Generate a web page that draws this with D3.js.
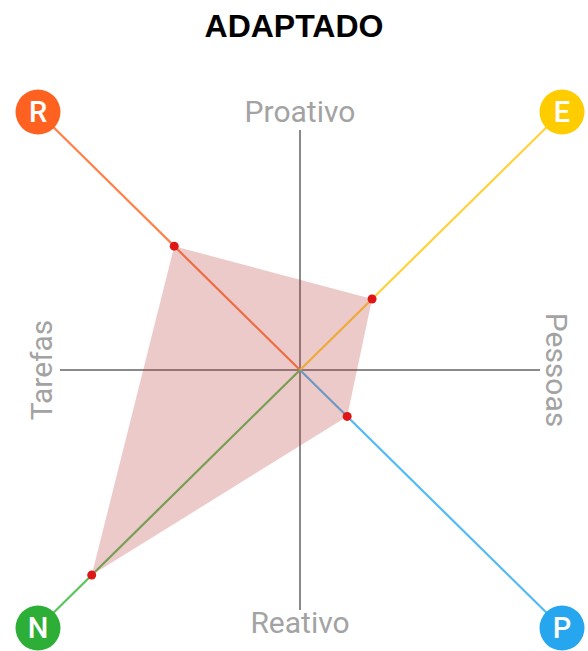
<!DOCTYPE html>
<html><head><meta charset="utf-8">
<script src="https://cdn.jsdelivr.net/npm/d3@7"></script>
<style>body{margin:0;background:#fff}svg{display:block}</style>
</head><body>
<svg id="c" width="588" height="651"></svg>
<script>
const title = "ADAPTADO";
const categories = ["R", "E", "P", "N"];
const directions = [[-1, 1], [1, 1], [1, -1], [-1, -1]];
const values = [0.48, 0.275, 0.18, 0.795];
const iconColors = ["#FF6120", "#FFCC00", "#26A6EF", "#2DAE36"];
const lineColors = ["#FF7F45", "#FFD23A", "#52BBF6", "#5CC45C"];
const axisLabels = ["Proativo", "Pessoas", "Reativo", "Tarefas"];

const svg = d3.select("#c");
const x = d3.scaleLinear().domain([-1, 1]).range([38, 562]);
const y = d3.scaleLinear().domain([-1, 1]).range([628, 112]);
const ax = 0.916, ay = 0.93;

svg.append("text").attr("x", 294).attr("y", 37).attr("text-anchor", "middle")
  .attr("font-family", "Liberation Sans, Arial, sans-serif").attr("font-weight", "bold")
  .attr("font-size", 32).attr("fill", "#000").text(title);

// axes
svg.append("line").attr("x1", x(-ax)).attr("x2", x(ax)).attr("y1", y(0)).attr("y2", y(0))
  .attr("stroke", "#8a8a8a").attr("stroke-width", 2);
svg.append("line").attr("x1", x(0)).attr("x2", x(0)).attr("y1", y(ay)).attr("y2", y(-ay))
  .attr("stroke", "#8a8a8a").attr("stroke-width", 2);

// colored spokes
svg.selectAll("line.spoke").data(categories).join("line").attr("class", "spoke")
  .attr("x1", x(0)).attr("y1", y(0))
  .attr("x2", (d, i) => x(directions[i][0])).attr("y2", (d, i) => y(directions[i][1]))
  .attr("stroke", (d, i) => lineColors[i]).attr("stroke-width", 2.2);

// polygon
const pts = categories.map((d, i) => [x(directions[i][0] * values[i]), y(directions[i][1] * values[i])]);
svg.append("path").attr("d", d3.line()(pts) + "Z")
  .attr("fill", "rgba(190,60,60,0.27)").attr("stroke", "none");

// dots
svg.selectAll("circle.dot").data(pts).join("circle").attr("class", "dot")
  .attr("cx", d => d[0]).attr("cy", d => d[1]).attr("r", 4.5).attr("fill", "#E01515");

// axis labels
const lf = "Roboto, 'Open Sans', sans-serif";
const fs = 30;
svg.append("text").attr("x", x(0)).attr("y", 122).attr("text-anchor", "middle")
  .attr("font-family", lf).attr("font-size", fs).attr("fill", "#a3a3a3").text(axisLabels[0]);
svg.append("text").attr("x", x(0)).attr("y", 633).attr("text-anchor", "middle")
  .attr("font-family", lf).attr("font-size", fs).attr("fill", "#a3a3a3").text(axisLabels[2]);
svg.append("text").attr("transform", `translate(52,${y(0)}) rotate(-90)`).attr("text-anchor", "middle")
  .attr("font-family", lf).attr("font-size", fs).attr("fill", "#a3a3a3").text(axisLabels[3]);
svg.append("text").attr("transform", `translate(546,${y(0)}) rotate(90)`).attr("text-anchor", "middle")
  .attr("font-family", lf).attr("font-size", fs).attr("fill", "#a3a3a3").text(axisLabels[1]);

// icons
const g = svg.selectAll("g.icon").data(categories).join("g").attr("class", "icon")
  .attr("transform", (d, i) => `translate(${x(directions[i][0])},${y(directions[i][1])})`);
g.append("circle").attr("r", 22.5).attr("fill", (d, i) => iconColors[i]);
g.append("text").attr("text-anchor", "middle").attr("dy", "0.36em")
  .attr("font-family", lf).attr("font-weight", 500).attr("font-size", 29).attr("fill", "#fff").text(d => d);
</script>
</body></html>
